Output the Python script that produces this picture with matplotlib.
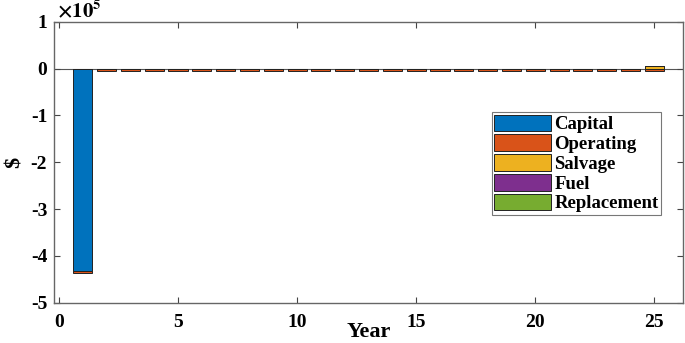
import numpy as np
import matplotlib
matplotlib.use("Agg")
import matplotlib.pyplot as plt
from matplotlib.ticker import FuncFormatter

plt.rcParams['font.family'] = ['Liberation Serif', 'DejaVu Serif']
plt.rcParams['font.weight'] = 'bold'
plt.rcParams['axes.unicode_minus'] = False
plt.rcParams['mathtext.fontset'] = 'stix'

# cash flow per year, in $
years = np.arange(1, 26)
capital = np.zeros(25)
capital[0] = -432000
operating = np.full(25, -4500.0)
salvage = np.zeros(25)
salvage[-1] = 6000
fuel = np.zeros(25)
replacement = np.zeros(25)

names = ["Capital", "Operating", "Salvage", "Fuel", "Replacement"]
colors = ["#0072BD", "#D95319", "#EDB120", "#7E2F8E", "#77AC30"]
series = [capital, operating, salvage, fuel, replacement]

fig = plt.figure(figsize=(6.85, 3.43), dpi=100)
ax = fig.add_axes([0.079, 0.118, 0.918, 0.818])

pos_base = np.zeros(25)
neg_base = np.zeros(25)
for vals, name, col in zip(series, names, colors):
    base = np.where(vals >= 0, pos_base, neg_base)
    ax.bar(years, vals, width=0.8, bottom=base, color=col, edgecolor='#222222',
           linewidth=0.7, label=name)
    pos_base += np.where(vals >= 0, vals, 0)
    neg_base += np.where(vals < 0, vals, 0)

ax.axhline(0, color='#555555', lw=0.8, zorder=0)
ax.set_xlim(-0.2, 26.2)
ax.set_ylim(-5e5, 1e5)
ax.set_xticks([0, 5, 10, 15, 20, 25])
ax.set_yticks(np.arange(-5e5, 1.01e5, 1e5))
ax.yaxis.set_major_formatter(FuncFormatter(lambda v, p: "%d" % round(v / 1e5)))
ax.tick_params(direction='in', top=True, right=True, labelsize=14, length=4,
               color='#444444', pad=5)
ax.tick_params(axis='x', pad=8)
for t in ax.get_xticklabels() + ax.get_yticklabels():
    t.set_fontweight('bold')
for s in ax.spines.values():
    s.set_color('#666666')
    s.set_linewidth(1.0)

ax.text(0.004, 1.0, r"$\mathbf{\times 10^{5}}$", transform=ax.transAxes,
        fontsize=15, ha='left', va='bottom')
ax.set_xlabel("Year", fontsize=16, fontweight='bold', labelpad=-6)
ax.set_ylabel("$", fontsize=16, fontweight='bold', labelpad=4)

leg = ax.legend(loc='upper right', bbox_to_anchor=(0.965, 0.678),
                prop={'weight': 'bold', 'size': 13.5}, frameon=True, fancybox=False,
                borderpad=0.12, labelspacing=0.05, handlelength=3.0,
                handleheight=1.0, handletextpad=0.2, borderaxespad=0)
leg.get_frame().set_edgecolor('#555555')
leg.get_frame().set_linewidth(0.8)

fig.savefig("out.png", dpi=100)
